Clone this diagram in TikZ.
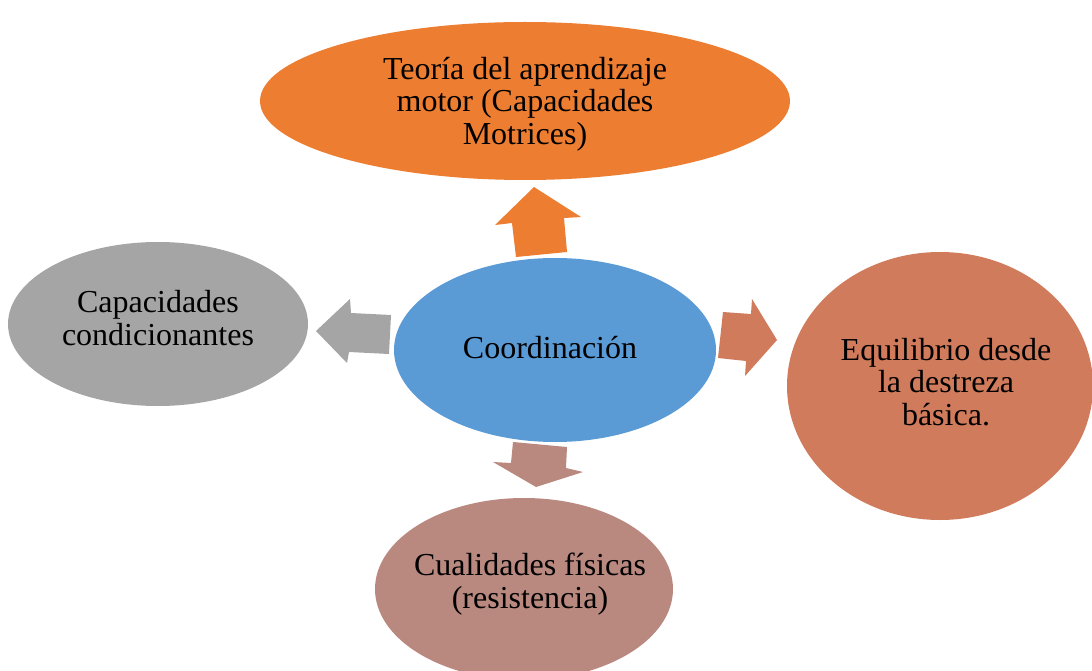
\documentclass[tikz,border=0pt]{standalone}
\usepackage{fontspec}
\setmainfont{Liberation Serif}
\usetikzlibrary{shapes.geometric}
\definecolor{corange}{RGB}{237,125,49}
\definecolor{cgray}{RGB}{165,165,165}
\definecolor{cblue}{RGB}{91,155,213}
\definecolor{cterra}{RGB}{209,123,93}
\definecolor{crose}{RGB}{185,136,127}
\tikzset{
  bubble/.style={ellipse, inner sep=0pt, align=center, font=\fontsize{32}{32.5}\selectfont, text=black}
}
\begin{document}
\begin{tikzpicture}[x=1pt,y=-1pt]
\useasboundingbox (0,0) rectangle (1092,671);
\clip (0,0) rectangle (1092,671);
% ellipses
\fill[corange] (525,101) ellipse [x radius=265, y radius=79];
\fill[cgray] (158,324) ellipse [x radius=150, y radius=82];
\fill[cblue] (555,350) ellipse [x radius=161, y radius=92];
\fill[cterra] (940,386) ellipse [x radius=153, y radius=134];
\fill[crose] (524,589) ellipse [x radius=149, y radius=91];
% texts
\node[bubble] (top) at (525,104) {Teoría del aprendizaje\\motor (Capacidades\\Motrices)};
\node[bubble] (left) at (158,318) {Capacidades\\condicionantes};
\node[bubble] (center) at (550,348) {Coordinación};
\node[bubble] (right) at (946,382) {Equilibrio desde\\la destreza\\básica.};
\node[bubble] (bottom) at (530,584) {Cualidades físicas\\(resistencia)};
% block arrows
\fill[corange] (516,257) -- (512,223) -- (495,225) -- (534,187) -- (581,217) -- (564,218) -- (567,252) -- cycle;
\fill[cgray] (389,354) -- (349,352) -- (347,363) -- (316,331) -- (350,299) -- (351,313) -- (391,315) -- cycle;
\fill[cterra] (723,312) -- (751,314) -- (752,299) -- (777,340) -- (745,376) -- (746,361) -- (718,358) -- cycle;
\fill[crose] (513,442) -- (567,447) -- (566,468) -- (583,472) -- (536,487) -- (493,462) -- (511,463) -- cycle;
\end{tikzpicture}
\end{document}
